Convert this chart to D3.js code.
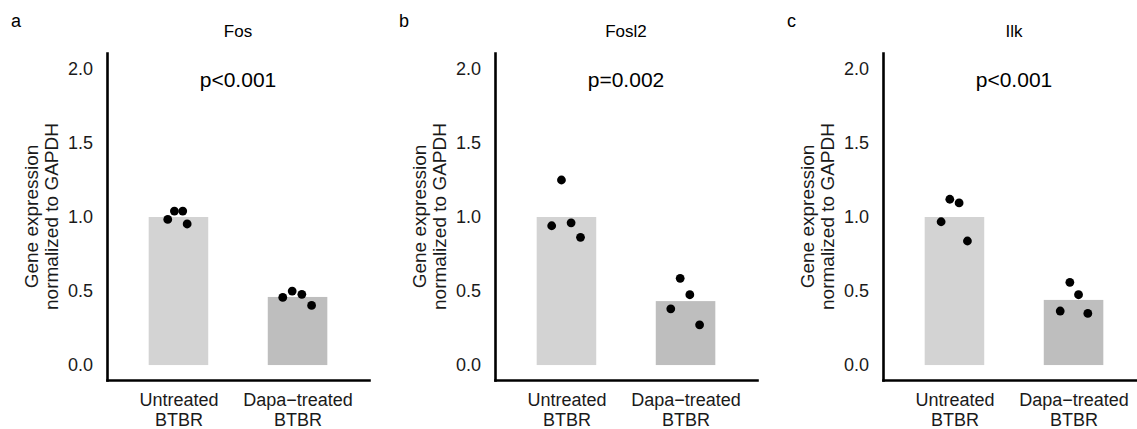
<!DOCTYPE html>
<html lang="en">

<head>
    <meta charset="UTF-8">
    <title>Gene expression bars</title>
    <script src="https://d3js.org/d3.v7.min.js"></script>
    <style>
        body { margin: 0; background: #fff; }
        svg { display: block; font-family: "Liberation Sans", Arial, sans-serif; }
    </style>
</head>

<body>
    <svg width="1137" height="429"></svg>
    <script>
        // data
        const groups = [["Untreated", "BTBR"], ["Dapa\u2212treated", "BTBR"]];
        const genes = ["Fos", "Fosl2", "Ilk"];
        const letters = ["a", "b", "c"];
        const pLabels = ["p<0.001", "p=0.002", "p<0.001"];
        const yTicks = [0, 0.5, 1.0, 1.5, 2.0];

        const barMeans = [
            [1.0, 0.46],
            [1.0, 0.432],
            [1.0, 0.44]
        ];

        const fosPoints = [[0.984, 1.04, 1.04, 0.953], [0.457, 0.5, 0.478, 0.403]];
        const fosl2Points = [[0.941, 1.25, 0.961, 0.863], [0.38, 0.586, 0.475, 0.272]];
        const ilkPoints = [[0.968, 1.12, 1.095, 0.838], [0.365, 0.559, 0.475, 0.349]];

        // horizontal jitter, in category units
        const fosJitter = [[-0.09, -0.034, 0.036, 0.073], [-0.124, -0.045, 0.036, 0.118]];
        const fosl2Jitter = [[-0.124, -0.042, 0.039, 0.118], [-0.124, -0.045, 0.036, 0.118]];
        const ilkJitter = [[-0.112, -0.039, 0.039, 0.109], [-0.112, -0.031, 0.042, 0.12]];

        const allPoints = [fosPoints, fosl2Points, ilkPoints];
        const allJitter = [fosJitter, fosl2Jitter, ilkJitter];
        const barColors = ["#d3d3d3", "#bebebe"];

        const svg = d3.select('svg');
        const panelStep = 388;
        const axisX = 107, plotW = 262;
        const plotTop = 53, plotBottom = 380;

        const y = d3.scaleLinear()
            .domain([-0.101, 2.108])
            .range([plotBottom, plotTop]);

        const x = d3.scaleLinear()
            .domain([0.4, 2.6])
            .range([0, plotW]);

        const barW = x(1.25) - x(0.75);

        genes.forEach((gene, gi) => {
            const panel = svg.append('g')
                .attr('transform', `translate(${gi * panelStep}, 0)`);

            panel.append('text')
                .attr('x', 11)
                .attr('y', 27)
                .attr('font-size', 18)
                .text(letters[gi]);

            const plot = panel.append('g')
                .attr('transform', `translate(${axisX}, 0)`);

            plot.append('text')
                .attr('x', plotW / 2)
                .attr('y', 37)
                .attr('text-anchor', 'middle')
                .attr('font-size', 17)
                .text(gene);

            plot.append('text')
                .attr('x', plotW / 2)
                .attr('y', 87)
                .attr('text-anchor', 'middle')
                .attr('font-size', 21)
                .text(pLabels[gi]);

            // bars
            plot.selectAll('rect.bar')
                .data(barMeans[gi])
                .enter()
                .append('rect')
                .attr('class', 'bar')
                .attr('x', (d, i) => x(i + 1) - barW / 2)
                .attr('y', d => y(d))
                .attr('width', barW)
                .attr('height', d => y(0) - y(d))
                .attr('fill', (d, i) => barColors[i]);

            // points
            const pts = [];
            allPoints[gi].forEach((vals, ci) => {
                vals.forEach((v, k) => pts.push({ c: ci + 1 + allJitter[gi][ci][k], v: v }));
            });
            plot.selectAll('circle')
                .data(pts)
                .enter()
                .append('circle')
                .attr('cx', d => x(d.c))
                .attr('cy', d => y(d.v))
                .attr('r', 4.4)
                .attr('fill', '#000');

            // y axis
            const yAxis = plot.append('g')
                .call(d3.axisLeft(y)
                    .tickValues(yTicks)
                    .tickSize(0)
                    .tickPadding(14)
                    .tickFormat(d3.format('.1f')));
            yAxis.selectAll('text')
                .attr('font-size', 18)
                .attr('fill', '#1a1a1a')
                .attr('font-family', '"Liberation Sans", Arial, sans-serif');

            // x axis
            const xAxis = plot.append('g')
                .attr('transform', `translate(0, ${plotBottom})`)
                .call(d3.axisBottom(x)
                    .tickValues([1, 2])
                    .tickSize(0)
                    .tickFormat(''));
            xAxis.selectAll('.tick').each(function (d) {
                const t = d3.select(this).append('text')
                    .attr('text-anchor', 'middle')
                    .attr('font-size', 18)
                    .attr('fill', '#1a1a1a')
                    .attr('font-family', '"Liberation Sans", Arial, sans-serif');
                groups[d - 1].forEach((line, li) => {
                    t.append('tspan')
                        .attr('x', 0)
                        .attr('y', 26 + li * 20)
                        .text(line);
                });
            });

            [yAxis, xAxis].forEach(a => a.select('.domain')
                .attr('stroke', '#000')
                .attr('stroke-width', 2.6)
                .attr('stroke-linecap', 'square'));

            // y axis title
            const title = plot.append('text')
                .attr('transform', `translate(${37.5 - axisX}, ${(plotTop + plotBottom) / 2}) rotate(-90)`)
                .attr('text-anchor', 'middle')
                .attr('font-size', 19)
                .attr('fill', '#1a1a1a');
            title.append('tspan').attr('x', 0).attr('y', 0).text('Gene expression');
            title.append('tspan').attr('x', 0).attr('y', 20.5).text('normalized to GAPDH');
        });
    </script>
</body>

</html>
